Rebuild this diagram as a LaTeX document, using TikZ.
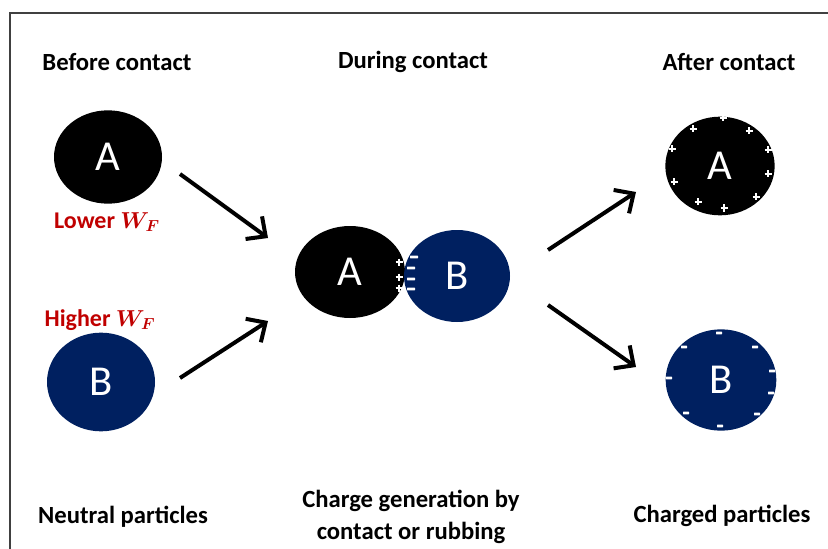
\documentclass[tikz,border=0pt]{standalone}
\usepackage{fontspec}
\usepackage{bm}
\setmainfont{Carlito}
\usetikzlibrary{arrows.meta,shapes.geometric}
\definecolor{navy}{HTML}{002060}
\definecolor{wfred}{HTML}{C00000}
\newcommand{\WFlab}{$\bm{W_F}$}
\tikzset{
  particle/.style={ellipse,draw=none,inner sep=0pt,text=white,font=\fontsize{32}{32}\selectfont},
  caption/.style={font=\fontsize{18.5}{24}\selectfont\bfseries,align=center},
  wflabel/.style={font=\fontsize{18}{21}\selectfont\bfseries,text=wfred},
  chg/.style={white,line width=1.1pt}
}
\newcommand{\minus}[3]{\fill[white,rounded corners=0.4pt] (#1-#3,#2-1.3) rectangle (#1+#3,#2+1.3);}
\newcommand{\plus}[2]{\draw[chg] (#1-3.5,#2) -- (#1+3.5,#2) (#1,#2-3.5) -- (#1,#2+3.5);}
\begin{document}
\begin{tikzpicture}[x=0.75pt,y=-0.75pt,>={Straight Barb[length=11pt,width=21pt]}]
		\useasboundingbox (0,0) rectangle (828,549);
		\draw[line width=1.2pt,black!75] (10,549) -- (10,13) -- (828,13);

		% headings
		\node[caption] (hbefore) at (117,62) {Before contact};
		\node[caption] (hduring) at (413,62) {During contact};
		\node[caption] (hafter) at (729,62) {After contact};

		% neutral particles
		\node[particle,fill=black,minimum width=81pt,minimum height=70pt] (A1) at (108,157) {A};
		\node[particle,fill=navy,minimum width=81pt,minimum height=74pt] (B1) at (101,382) {B};
		\node[wflabel] (lowerwf) at (107,222) {Lower \WFlab};
		\node[wflabel] (higherwf) at (100,320) {Higher \WFlab};

		% contact
		\node[particle,fill=black,minimum width=82.5pt,minimum height=69pt] (A2) at (350,272) {A};
		\node[particle,fill=navy,minimum width=79.5pt,minimum height=69pt] (B2) at (457,276) {B};
		\foreach \y in {262,277,288}
			\plus{399}{\y};
		\foreach \x/\y in {414/257,411/268,411/279,411/289}
			\minus{\x}{\y}{4};

		% charged particles
		\node[particle,fill=black,minimum width=82pt,minimum height=74pt] (A3) at (720,166) {A};
		\node[particle,fill=navy,minimum width=83pt,minimum height=76pt] (B3) at (721,380) {B};
		\foreach \x/\y in {723/118,693/129,749/131,672/149,768/150,674/182,768/174,756/197,698/202,724/208}
			\plus{\x}{\y};
		\foreach \x/\y in {719/333,684/347,755/347,669/378,772/371,771/393,686/413,757/414,720/426}
			\minus{\x}{\y}{3};

		% arrows
		\coordinate (a1s) at (180,174);
		\coordinate (a1e) at (268,238);
		\coordinate (b1s) at (180,378);
		\coordinate (b1e) at (268,321);
		\coordinate (a3s) at (548,250);
		\coordinate (a3e) at (636,192);
		\coordinate (b3s) at (548,305);
		\coordinate (b3e) at (636,367);
		\foreach \s/\e in {a1s/a1e,b1s/b1e,a3s/a3e,b3s/b3e}
			\draw[->,line width=3pt] (\s) -- (\e);

		% bottom captions
		\node[caption] (neutral) at (123,517) {Neutral particles};
		\node[caption] (generation) at (411,517) {Charge generation by\\contact or rubbing};
		\node[caption] (charged) at (722,516) {Charged particles};
	\end{tikzpicture}
\end{document}
